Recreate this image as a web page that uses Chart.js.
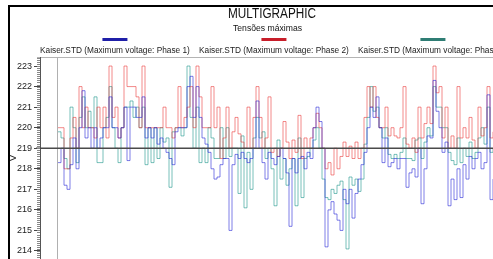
<!DOCTYPE html>
<html>
<head>
<meta charset="utf-8">
<script src="https://cdn.jsdelivr.net/npm/chart.js@4"></script>
<style>
  html, body { margin: 0; padding: 0; background: #fff; }
  #wrap { width: 493px; height: 259px; }
</style>
</head>
<body>
<div id="wrap"><canvas id="chart" width="493" height="259"></canvas></div>
<script>
const chartTitle = 'MULTIGRAPHIC';
const chartSubtitle = 'Tensões máximas';
const seriesNames = [
    'Kaiser.STD (Maximum voltage: Phase 1)',
    'Kaiser.STD (Maximum voltage: Phase 2)',
    'Kaiser.STD (Maximum voltage: Phase 3)'
];
const yTicks = [214, 215, 216, 217, 218, 219, 220, 221, 222, 223];
const refLevel = 219;

// readings, one every sample
const phase1 = [
    218.3, 219, 217.2, 217, 218.2, 219.5, 218, 220, 221.8, 219.5,
    220, 219, 220, 219, 219.5, 220, 220, 221.5, 220, 220,
    219.5, 220, 221, 218.4, 221, 221, 220.5, 220.5, 221.5, 219.5,
    220, 219.5, 220, 219.2, 219.5, 219, 218.8, 218.5, 218.2, 219.8,
    220, 220, 220, 222, 222.5, 220.5, 222, 220.5, 219.5, 219.2,
    218.8, 218, 217.5, 217.6, 218.2, 218.5, 218.5, 215, 218.2, 218.7,
    218.5, 218.8, 218.5, 218.3, 218.5, 219, 221.3, 219, 218.3, 217.5,
    218.8, 218.5, 218.2, 218.6, 219, 218.5, 217.8, 215.2, 218.5, 217.8,
    218.5, 218.6, 218, 218.8, 218.5, 220, 221, 220.3, 219, 214.2,
    216, 216.4, 215.8, 215.5, 215, 217, 216.3, 217, 215.6, 216.8,
    217.5, 218.2, 218.8, 220, 221, 220.5, 221.5, 220, 218.3, 219.5,
    218.1, 218.3, 218.5, 218, 218.5, 218.5, 217.1, 217.8, 218, 217.6,
    219, 216.3, 218, 219.6, 219.5, 222.3, 220.8, 220, 218.8, 219.3,
    216.2, 217.5, 216.5, 218, 216.6, 218.2, 217.5, 218.6, 218, 218.5,
    218.8, 218, 218.3, 221.6, 216.5, 217.5
];
const phase2 = [
    220, 220, 218, 218, 219.5, 220.5, 219, 222, 220, 221,
    220, 220, 219.5, 221, 220, 221, 219.5, 223, 220.5, 221,
    219.5, 220, 223, 222, 222, 222, 221.5, 220, 223, 220,
    220, 220, 220, 220, 220, 221, 220, 220, 219.5, 220,
    222, 220, 220.5, 221, 222, 220, 223, 221.5, 220, 220,
    220, 222, 220, 221, 218.5, 219.5, 221, 219, 219.8, 220.5,
    219.7, 219.3, 219, 221, 219, 220.5, 222, 220.5, 219, 219.5,
    221.5, 218.8, 219, 218.6, 219, 220.3, 219.3, 218.5, 219.4, 218.8,
    220.6, 218.5, 219.5, 219, 219.5, 220, 220.7, 220, 219, 218,
    218.3, 217.7, 219, 218, 218.6, 219.3, 218.6, 219.1, 218.5, 219.3,
    218.5, 219, 220.5, 222, 221, 222, 220.5, 220, 220, 221,
    219.6, 220, 219.6, 219.5, 220, 222, 219.2, 219, 219.5, 218.8,
    221, 219.5, 220.2, 221, 220.2, 223, 221.7, 222, 219.5, 221,
    219, 219.6, 219, 222, 219.5, 220, 219.5, 220.5, 219.4, 219,
    221, 219.6, 220, 222, 219.5, 219.8
];
const phase3 = [
    219.8, 219.5, 218.5, 218, 221, 220, 218.3, 220.5, 221.5, 220,
    220.8, 220, 221.5, 218.3, 218.3, 220, 220.5, 222, 220, 219,
    218.3, 220, 221, 221, 221.3, 220.5, 221, 220, 221, 218.2,
    220, 218.3, 220, 218.5, 220, 219.3, 219.5, 217.1, 219.8, 220,
    220, 219.6, 220, 223, 220.5, 219, 221, 218.3, 219, 218.3,
    220, 219.5, 218.5, 218.5, 220, 218.5, 220, 218.6, 219, 219,
    216.8, 219.6, 216.1, 218.8, 217, 219.5, 220.5, 219.5, 219.8, 218.5,
    219, 218, 216.2, 219.4, 217.5, 218.5, 217.2, 218, 218.5, 216.2,
    219.5, 216.6, 218.5, 218.6, 219, 219.4, 220, 219, 217.5, 216.6,
    216.5, 217, 216.8, 217.2, 217.4, 216.5, 214.1, 217.6, 217.2, 217.5,
    216.9, 217.5, 219.2, 220.5, 222, 220.8, 221, 220, 219.5, 220,
    218.7, 218.5, 218.7, 218.5, 218.8, 219.5, 218.5, 218.5, 218.4, 219.4,
    219.5, 218.5, 219.3, 220, 219.6, 222, 221, 221, 220, 220,
    218.8, 218.4, 218.2, 219.5, 218.3, 219, 218.6, 219.3, 218.5, 218.8,
    219.5, 220, 219.2, 221, 218.8, 219
];

const lineColors = ['rgba(40, 40, 215, 0.6)', 'rgba(235, 60, 60, 0.6)', 'rgba(30, 150, 140, 0.6)'];
const keyColors = ['#1f1fa8', '#c81e2a', '#2f7d74'];
const font = '"Liberation Sans", Arial, sans-serif';

function toPoints(values) {
    return values.map((v, i) => ({ x: i, y: v }));
}

// draw text squeezed to a given width
function fitText(ctx, text, cx, cy, size, width) {
    ctx.font = size + 'px ' + font;
    const w = ctx.measureText(text).width;
    const sx = width / w;
    ctx.save();
    ctx.translate(cx, cy);
    ctx.scale(sx, 1);
    ctx.textAlign = 'center';
    ctx.textBaseline = 'middle';
    ctx.fillText(text, 0, 0);
    ctx.restore();
}

const decorations = {
    id: 'decorations',
    beforeDraw(chart) {
        const ctx = chart.ctx;
        ctx.save();
        ctx.fillStyle = '#fff';
        ctx.fillRect(0, 0, chart.width, chart.height);

        // outer frame
        ctx.strokeStyle = '#000';
        ctx.lineWidth = 2;
        ctx.beginPath();
        ctx.moveTo(9, chart.height);
        ctx.lineTo(9, 6);
        ctx.lineTo(chart.width, 6);
        ctx.stroke();

        ctx.fillStyle = '#111';
        fitText(ctx, chartTitle, 272, 14, 14, 88);
        fitText(ctx, chartSubtitle, 267.5, 28.5, 9, 69);

        // legend: key line above its label
        ctx.font = '8.3px ' + font;
        ctx.textAlign = 'left';
        ctx.textBaseline = 'middle';
        seriesNames.forEach((name, i) => {
            const x0 = 40 + i * 159;
            const w = ctx.measureText(name).width;
            const cx = x0 + w / 2;
            ctx.fillStyle = keyColors[i];
            ctx.fillRect(cx - 12.5, 38, 25, 3);
            ctx.fillStyle = '#222';
            ctx.fillText(name, x0, 51);
        });

        // box line under the legend
        ctx.strokeStyle = '#b4b4b4';
        ctx.lineWidth = 1;
        ctx.beginPath();
        ctx.moveTo(37, 57.5);
        ctx.lineTo(chart.width, 57.5);
        ctx.stroke();
        ctx.restore();
    },
    afterDatasetsDraw(chart) {
        const ctx = chart.ctx;
        const { x, y } = chart.scales;
        const area = chart.chartArea;
        ctx.save();
        // plot left edge
        const px = Math.round(x.getPixelForValue(0)) - 0.5;
        ctx.strokeStyle = '#b0b0b0';
        ctx.lineWidth = 1;
        ctx.beginPath();
        ctx.moveTo(px, area.top);
        ctx.lineTo(px, area.bottom);
        ctx.stroke();
        // reference level
        const py = y.getPixelForValue(refLevel);
        ctx.strokeStyle = '#4a4a4a';
        ctx.lineWidth = 1.5;
        ctx.beginPath();
        ctx.moveTo(36, py);
        ctx.lineTo(area.right, py);
        ctx.stroke();
        ctx.restore();
    },
    afterDraw(chart) {
        const ctx = chart.ctx;
        const y = chart.scales.y;
        ctx.save();
        ctx.strokeStyle = '#888';
        ctx.lineWidth = 1;
        ctx.beginPath();
        for (let v = Math.ceil(y.min * 10); v <= y.max * 10; v++) {
            const py = Math.round(y.getPixelForValue(v / 10)) + 0.5;
            ctx.moveTo(y.right - 3, py);
            ctx.lineTo(y.right, py);
        }
        ctx.stroke();
        ctx.restore();
    }
};

new Chart(document.getElementById('chart').getContext('2d'), {
    type: 'line',
    data: {
        datasets: [phase1, phase2, phase3].map((values, i) => ({
            label: seriesNames[i],
            data: toPoints(values),
            borderColor: lineColors[i],
            borderWidth: 1,
            stepped: true,
            pointRadius: 0,
            fill: false
        }))
    },
    options: {
        responsive: false,
        animation: false,
        layout: { padding: { left: 8, top: 57, right: 0, bottom: 0 } },
        plugins: {
            legend: { display: false },
            title: { display: false },
            tooltip: { enabled: false }
        },
        scales: {
            x: {
                type: 'linear',
                display: false,
                min: -6,
                max: phase1.length - 1
            },
            y: {
                min: 213.61,
                max: 223.44,
                afterBuildTicks(scale) {
                    scale.ticks = yTicks.map(v => ({ value: v }));
                },
                afterFit(scale) {
                    scale.width = 32;
                    scale.paddingTop = 0;
                    scale.paddingBottom = 0;
                },
                title: {
                    display: true,
                    text: 'V',
                    padding: 0,
                    color: '#222',
                    font: { family: font, size: 9 }
                },
                grid: {
                    drawOnChartArea: false,
                    tickLength: 6,
                    color: '#444'
                },
                border: { display: true, color: '#555' },
                ticks: {
                    padding: 2,
                    color: '#222',
                    font: { family: font, size: 9 }
                }
            }
        }
    },
    plugins: [decorations]
});
</script>
</body>
</html>
